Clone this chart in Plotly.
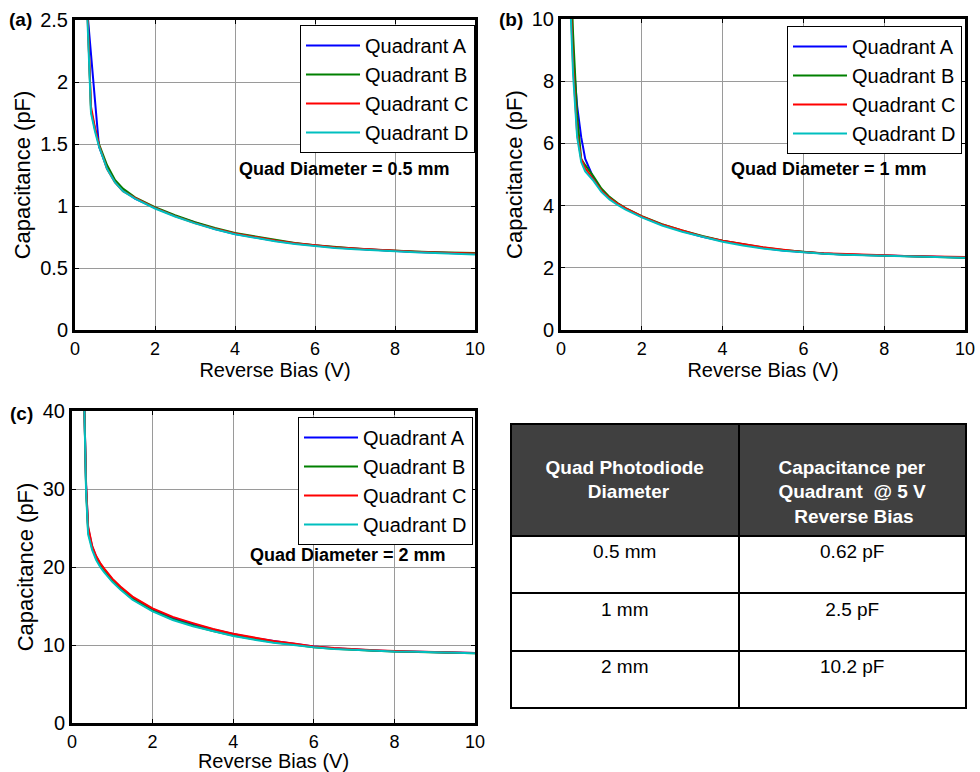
import plotly.graph_objects as go

# ---------------- data ----------------
series_names = ["Quadrant A", "Quadrant B", "Quadrant C", "Quadrant D"]
series_colors = ["#0000FF", "#008000", "#FF0000", "#00BFBF"]

# Panel (a): 0.5 mm
x_a = [0.3, 0.4, 0.5, 0.6, 0.8, 1.0, 1.2, 1.5, 2.0, 2.5, 3.0, 3.5, 4.0, 4.5, 5.0,
       5.5, 6.0, 6.5, 7.0, 7.5, 8.0, 8.5, 9.0, 9.5, 10.0]
a_A = [2.60, 2.25, 1.85, 1.48, 1.31, 1.20, 1.13, 1.06, 0.985, 0.920, 0.865, 0.815, 0.775,
       0.745, 0.720, 0.697, 0.680, 0.666, 0.655, 0.645, 0.637, 0.630, 0.624, 0.618, 0.612]
a_B = [2.70, 1.77, 1.62, 1.50, 1.33, 1.21, 1.14, 1.07, 0.990, 0.925, 0.870, 0.822, 0.782,
       0.755, 0.726, 0.702, 0.684, 0.669, 0.658, 0.648, 0.639, 0.633, 0.628, 0.625, 0.620]
a_C = [2.65, 1.80, 1.63, 1.49, 1.30, 1.19, 1.12, 1.065, 0.985, 0.918, 0.862, 0.816, 0.778,
       0.748, 0.722, 0.700, 0.682, 0.668, 0.657, 0.647, 0.640, 0.632, 0.626, 0.621, 0.616]
a_D = [2.60, 1.75, 1.60, 1.48, 1.30, 1.19, 1.12, 1.06, 0.980, 0.915, 0.860, 0.812, 0.772,
       0.742, 0.716, 0.694, 0.676, 0.662, 0.652, 0.642, 0.634, 0.627, 0.620, 0.614, 0.608]

# Panel (b): 1 mm
x_b = [0.2, 0.3, 0.4, 0.5, 0.6, 0.8, 1.0, 1.2, 1.4, 1.6, 2.0, 2.5, 3.0, 3.5, 4.0, 4.5,
       5.0, 5.5, 6.0, 6.5, 7.0, 7.5, 8.0, 8.5, 9.0, 9.5, 10.0]
b_A = [12.5, 8.8, 7.2, 6.2, 5.5, 4.90, 4.50, 4.25, 4.05, 3.90, 3.64, 3.38, 3.18, 3.00, 2.86,
       2.74, 2.64, 2.56, 2.50, 2.46, 2.43, 2.41, 2.39, 2.37, 2.36, 2.35, 2.33]
b_B = [13.0, 9.5, 6.9, 5.5, 5.3, 4.95, 4.55, 4.28, 4.08, 3.92, 3.66, 3.40, 3.20, 3.02, 2.87,
       2.75, 2.65, 2.57, 2.51, 2.46, 2.43, 2.41, 2.39, 2.37, 2.36, 2.34, 2.32]
b_C = [12.0, 8.5, 6.3, 5.5, 5.2, 4.85, 4.48, 4.24, 4.06, 3.91, 3.65, 3.39, 3.19, 3.01, 2.87,
       2.76, 2.66, 2.58, 2.51, 2.47, 2.44, 2.42, 2.40, 2.38, 2.37, 2.36, 2.35]
b_D = [11.5, 8.2, 6.2, 5.4, 5.1, 4.80, 4.44, 4.20, 4.02, 3.87, 3.62, 3.36, 3.16, 2.99, 2.84,
       2.72, 2.62, 2.55, 2.49, 2.45, 2.42, 2.40, 2.38, 2.36, 2.35, 2.34, 2.32]

# Panel (c): 2 mm
x_c = [0.3, 0.35, 0.4, 0.5, 0.6, 0.7, 0.8, 1.0, 1.2, 1.5, 2.0, 2.5, 3.0, 3.5, 4.0, 4.5,
       5.0, 5.5, 6.0, 6.5, 7.0, 7.5, 8.0, 8.5, 9.0, 9.5, 10.0]
c_A = [42.0, 30.5, 25.0, 22.6, 21.3, 20.4, 19.7, 18.4, 17.4, 16.1, 14.6, 13.5, 12.7, 12.0,
       11.4, 10.9, 10.5, 10.15, 9.80, 9.58, 9.42, 9.30, 9.20, 9.15, 9.10, 9.03, 8.96]
c_B = [42.0, 30.0, 24.6, 22.4, 21.1, 20.2, 19.5, 18.2, 17.2, 15.9, 14.4, 13.3, 12.5, 11.8,
       11.2, 10.75, 10.35, 10.05, 9.72, 9.53, 9.38, 9.27, 9.18, 9.13, 9.08, 9.01, 8.94]
c_C = [42.0, 30.5, 25.2, 22.7, 21.4, 20.5, 19.8, 18.5, 17.5, 16.2, 14.7, 13.6, 12.8, 12.05,
       11.45, 10.95, 10.5, 10.18, 9.82, 9.60, 9.44, 9.32, 9.22, 9.16, 9.11, 9.04, 8.97]
c_D = [42.0, 29.5, 24.2, 22.2, 20.9, 20.0, 19.3, 18.1, 17.1, 15.8, 14.3, 13.2, 12.4, 11.75,
       11.15, 10.7, 10.3, 10.0, 9.70, 9.50, 9.36, 9.26, 9.17, 9.12, 9.07, 9.00, 8.93]

x_ticks = [0, 2, 4, 6, 8, 10]
y_ticks_a = [0, 0.5, 1, 1.5, 2, 2.5]
y_ticks_b = [0, 2, 4, 6, 8, 10]
y_ticks_c = [0, 10, 20, 30, 40]

NB = "\u00a0"
table_header = [
    NB + "<br><b>Quad Photodiode</b><br><b>" + NB * 8 + "Diameter</b>",
    NB + "<br><b>Capacitance per</b><br><b>Quadrant  @ 5 V</b><br><b>" + NB * 3 + "Reverse Bias</b>",
]
table_diam = ["0.5 mm", "1 mm", "2 mm"]
table_cap = ["0.62 pF", "2.5 pF", "10.2 pF"]

panel_labels = ["(a)", "(b)", "(c)"]
diam_notes = ["Quad Diameter = 0.5 mm", "Quad Diameter = 1 mm", "Quad Diameter = 2 mm"]

FONT = "Liberation Sans, Arial, sans-serif"
W, H = 980, 772

fig = go.Figure()

panels = [
    (x_a, [a_A, a_B, a_C, a_D], "x", "y", "legend"),
    (x_b, [b_A, b_B, b_C, b_D], "x2", "y2", "legend2"),
    (x_c, [c_A, c_B, c_C, c_D], "x3", "y3", "legend3"),
]
for xs, ys_list, xa, ya, lg in panels:
    for name, color, ys in zip(series_names, series_colors, ys_list):
        fig.add_trace(go.Scatter(x=xs, y=ys, mode="lines", name=name,
                                 line=dict(color=color, width=2),
                                 xaxis=xa, yaxis=ya, legend=lg))

fig.add_trace(go.Table(
    domain=dict(x=[511 / W, 967 / W], y=[1 - 712 / H, 1 - 424 / H]),
    columnwidth=[1, 1],
    header=dict(values=table_header, fill_color="#404040",
                line=dict(color="black", width=2),
                font=dict(family=FONT, size=19, color="white"),
                align="center", height=112),
    cells=dict(values=[table_diam, table_cap], fill_color="white",
               line=dict(color="black", width=2),
               font=dict(family=FONT, size=19, color="black"),
               align="center", height=57.3),
))


def xaxis(domain, anchor):
    return dict(domain=domain, anchor=anchor, range=[0, 10], tickvals=x_ticks,
                showgrid=True, gridcolor="#9a9a9a", gridwidth=1,
                showline=True, linecolor="black", linewidth=3, mirror="allticks",
                ticks="inside", ticklen=4, tickcolor="black", tickwidth=1,
                tickfont=dict(family=FONT, size=18, color="black"),
                title=dict(text="Reverse Bias (V)", font=dict(family=FONT, size=20, color="black"),
                           standoff=0),
                zeroline=False, automargin=False)


def yaxis(domain, anchor, rng, ticks):
    return dict(domain=domain, anchor=anchor, range=rng, tickvals=ticks,
                showgrid=True, gridcolor="#9a9a9a", gridwidth=1,
                showline=True, linecolor="black", linewidth=3, mirror="allticks",
                ticks="inside", ticklen=4, tickcolor="black", tickwidth=1,
                tickfont=dict(family=FONT, size=20, color="black"),
                title=dict(text="Capacitance (pF)", font=dict(family=FONT, size=22, color="black"),
                           standoff=4),
                zeroline=False, automargin=False)


def legend(xr, yt):
    return dict(x=xr / W, y=1 - yt / H, xanchor="right", yanchor="top",
                bgcolor="white", bordercolor="black", borderwidth=1,
                font=dict(family=FONT, size=20, color="black"),
                tracegroupgap=0, itemwidth=54)


fig.update_layout(
    width=W, height=H, margin=dict(l=0, r=0, t=0, b=0, pad=0, autoexpand=False),
    paper_bgcolor="white", plot_bgcolor="white",
    font=dict(family=FONT, color="black"),
    showlegend=True,
    xaxis=xaxis([75 / W, 475 / W], "y"),
    yaxis=yaxis([1 - 330 / H, 1 - 20 / H], "x", [0, 2.5], y_ticks_a),
    xaxis2=xaxis([561 / W, 965 / W], "y2"),
    yaxis2=yaxis([1 - 330 / H, 1 - 19 / H], "x2", [0, 10], y_ticks_b),
    xaxis3=xaxis([72 / W, 475 / W], "y3"),
    yaxis3=yaxis([1 - 723 / H, 1 - 411 / H], "x3", [0, 40], y_ticks_c),
    legend=legend(475, 25),
    legend2=legend(962, 26),
    legend3=legend(473, 417),
)

# panel labels
for lab, (px, py) in zip(panel_labels, [(20, 20), (511, 20), (21, 413)]):
    fig.add_annotation(text="<b>" + lab + "</b>", x=px / W, y=1 - py / H, xref="paper", yref="paper",
                       showarrow=False, font=dict(family=FONT, size=19, color="black"),
                       xanchor="center", yanchor="middle")

# diameter notes (data coordinates)
for note, (xr, yr, nx, ny) in zip(diam_notes, [("x", "y", 6.73, 1.30), ("x2", "y2", 6.64, 5.18),
                                               ("x3", "y3", 6.85, 21.5)]):
    fig.add_annotation(text="<b>" + note + "</b>", x=nx, y=ny, xref=xr, yref=yr, showarrow=False,
                       font=dict(family=FONT, size=18, color="black"), xanchor="center",
                       yanchor="middle")

fig.write_html("out.html")
